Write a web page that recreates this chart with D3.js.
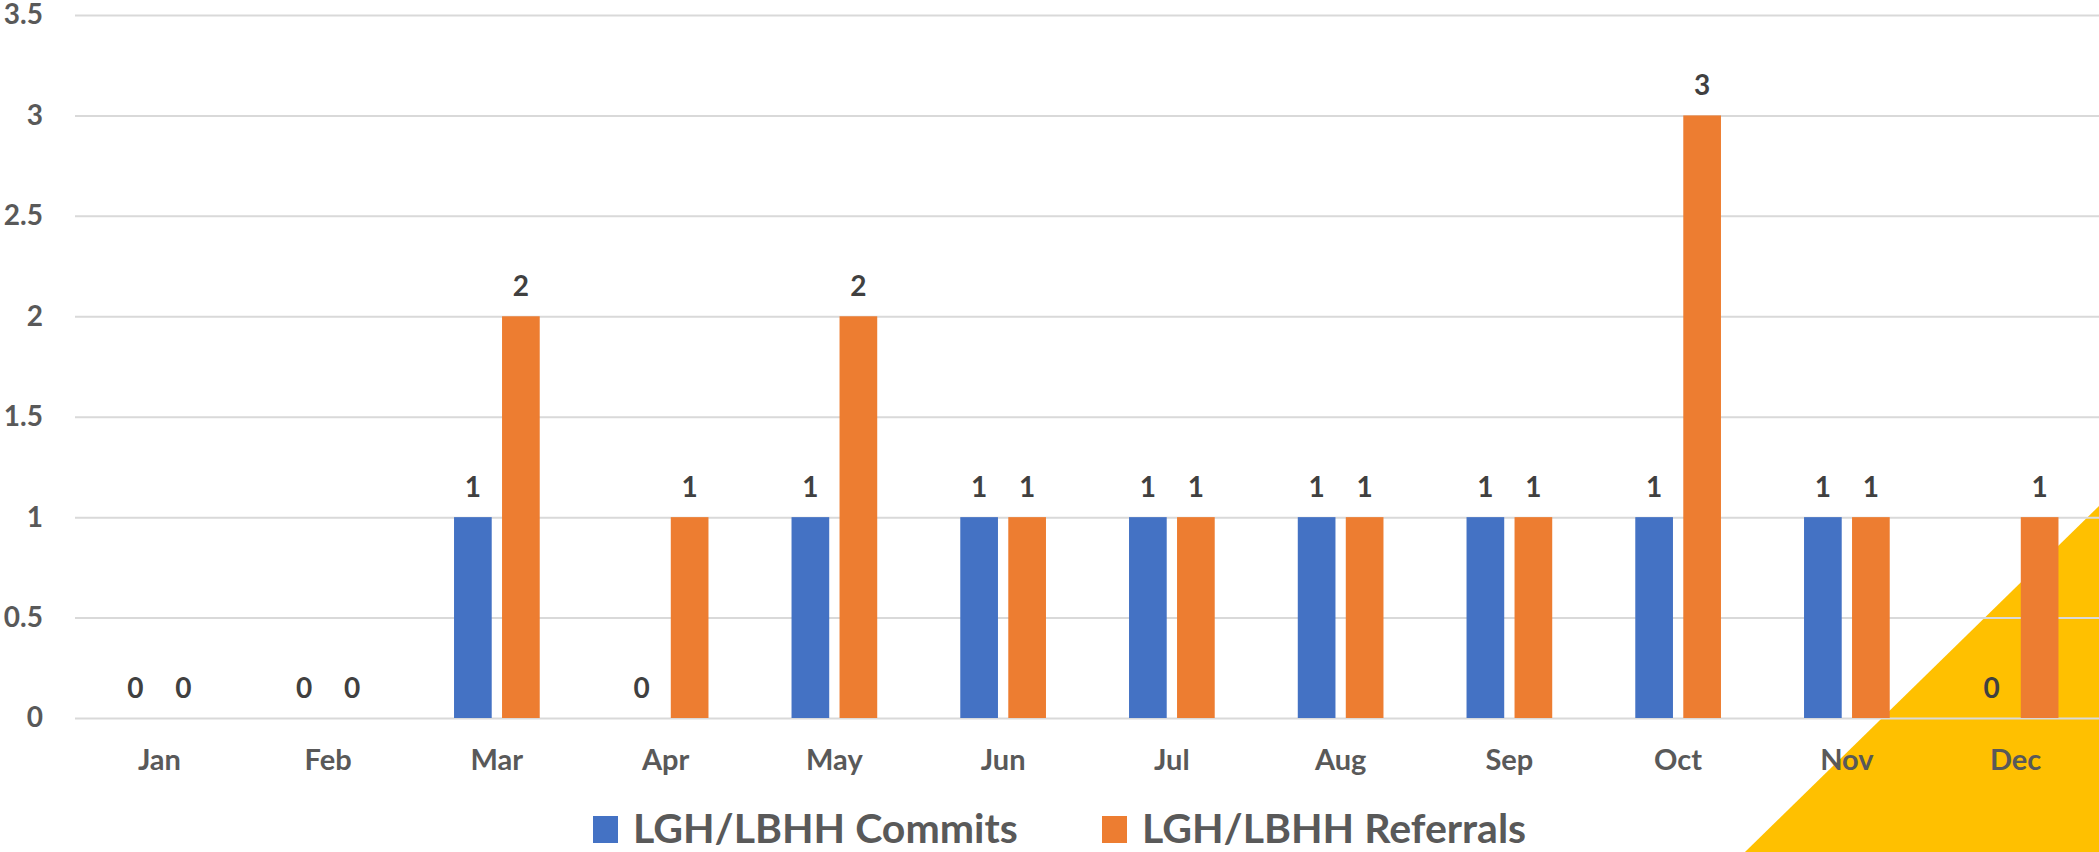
<!DOCTYPE html>
<html lang="en">
<head>
<meta charset="UTF-8">
<title>LGH/LBHH Commits and Referrals</title>
<style>
    body { margin:0; background:#fff; }
    svg text { font-family: Lato, "Open Sans", sans-serif; font-weight:bold; }
</style>
</head>
<body>
<script src="https://cdn.jsdelivr.net/npm/d3@7/dist/d3.min.js"></script>
<script>
    var months = ["Jan","Feb","Mar","Apr","May","Jun","Jul","Aug","Sep","Oct","Nov","Dec"];
    var commits = [0,0,1,0,1,1,1,1,1,1,1,0];
    var referrals = [0,0,2,1,2,1,1,1,1,3,1,1];
    var seriesNames = ["LGH/LBHH Commits","LGH/LBHH Referrals"];
    var yTicks = [0,0.5,1,1.5,2,2.5,3,3.5];

    var w = 2099, h = 852;
    var colors = ["#4472c4","#ed7d31"];

    var svg = d3.select("body").append("svg")
        .attr("width", w).attr("height", h);

    // yellow corner behind the chart
    svg.append("path")
        .attr("d", "M1745,852 L2099,506 L2099,852 Z")
        .attr("fill", "#ffc000");

    var x = d3.scaleBand().domain(months).range([75, 2100]).padding(0);
    var xInner = d3.scaleBand().domain([0,1]).range([0, x.bandwidth()])
        .paddingInner(0.215).paddingOuter(0.865);
    var y = d3.scaleLinear().domain([0, 3.5]).range([718, 15]);

    // gridlines + y labels
    var yAxis = svg.append("g")
        .attr("transform", "translate(75,0)")
        .call(d3.axisLeft(y).tickValues(yTicks).tickSize(-2025).tickFormat(function (d) { return d; }));
    yAxis.select(".domain").remove();
    yAxis.selectAll(".tick text")
        .attr("x", -32)
        .attr("font-size", "28px")
        .attr("fill", "#595959");
    yAxis.selectAll(".tick line").attr("stroke", "#d9d9d9").attr("stroke-width", 2);

    // month labels
    var xAxis = svg.append("g")
        .attr("transform", "translate(0,718)")
        .call(d3.axisBottom(x).tickSize(0));
    xAxis.select(".domain").remove();
    xAxis.selectAll(".tick text")
        .attr("y", 52)
        .attr("dy", 0)
        .attr("font-size", "29px")
        .attr("fill", "#595959");

    var table = months.map(function (m, i) {
        return { month: m, vals: [commits[i], referrals[i]] };
    });

    var groups = svg.selectAll("g.month").data(table).enter().append("g")
        .attr("class", "month")
        .attr("transform", function (d) { return "translate(" + x(d.month) + ",0)"; });

    groups.selectAll("rect")
        .data(function (d) { return d.vals; })
        .enter().append("rect")
        .attr("x", function (d, i) { return xInner(i); })
        .attr("y", function (d) { return y(d); })
        .attr("width", xInner.bandwidth())
        .attr("height", function (d) { return y(0) - y(d); })
        .attr("fill", function (d, i) { return colors[i]; });

    groups.selectAll("text.lbl")
        .data(function (d) { return d.vals; })
        .enter().append("text")
        .attr("class", "lbl")
        .attr("x", function (d, i) { return xInner(i) + xInner.bandwidth() / 2; })
        .attr("y", function (d) { return y(d) - 20; })
        .attr("text-anchor", "middle")
        .attr("font-size", "28px")
        .attr("fill", "#404040")
        .text(function (d) { return d; });

    // legend
    var legX = [593, 1102];
    var legend = svg.selectAll("g.leg").data(seriesNames).enter().append("g")
        .attr("class", "leg")
        .attr("transform", function (d, i) { return "translate(" + legX[i] + ",816)"; });
    legend.append("rect")
        .attr("width", 25).attr("height", 27)
        .attr("fill", function (d, i) { return colors[i]; });
    legend.append("text")
        .attr("x", 40).attr("y", 27)
        .attr("font-size", "41px")
        .attr("fill", "#595959")
        .text(function (d) { return d; });
</script>
</body>
</html>
